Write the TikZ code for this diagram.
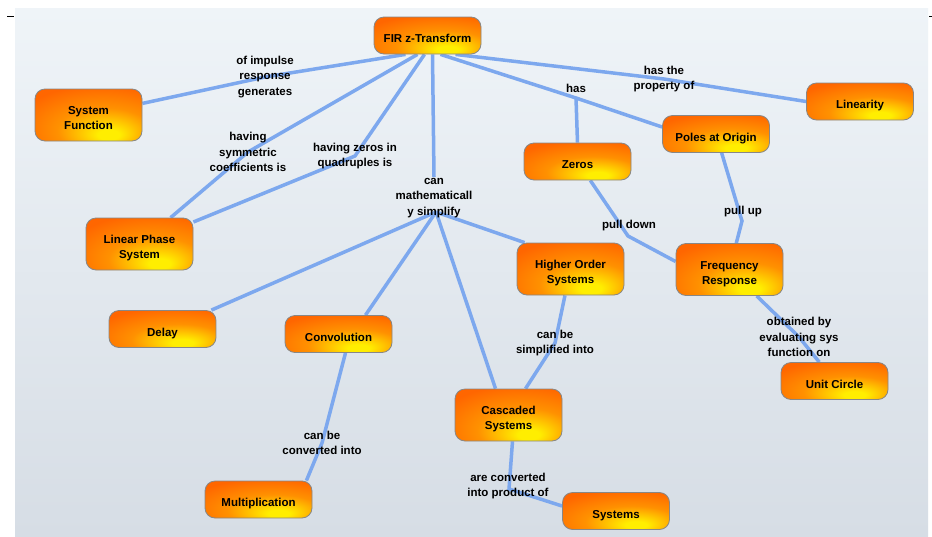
\documentclass[tikz,border=0pt]{standalone}
\usepackage{fontspec}
\setmainfont{Liberation Sans}
\definecolor{corange}{RGB}{255,102,0}
\definecolor{cmid}{RGB}{255,145,0}
\definecolor{cyellow}{RGB}{255,238,0}
\definecolor{cborder}{RGB}{135,135,135}
\definecolor{clink}{RGB}{125,168,238}
\definecolor{ptop}{RGB}{239,244,248}
\definecolor{pbot}{RGB}{214,221,229}
\pgfdeclareradialshading{nodeshade}{\pgfpoint{10bp}{-20bp}}{color(0bp)=(cyellow); color(5bp)=(cyellow); color(22bp)=(cmid); color(40bp)=(corange); color(90bp)=(corange)}
\pgfdeclarelayer{back}
\pgfdeclarelayer{lines}
\pgfsetlayers{back,lines,main}
\newcommand{\nt}[1]{\raisebox{-4pt}[\height][\depth]{\begin{tabular}{@{}c@{}}#1\end{tabular}}}
\begin{document}
\begin{tikzpicture}[x=1pt,y=-1pt,
  concept/.style={rectangle, rounded corners=10pt, draw=cborder, line width=0.8pt,
    shade, shading=nodeshade, minimum width=107pt, minimum height=37pt, inner sep=0pt,
    font=\bfseries\fontsize{11.5}{15}\selectfont},
  tall/.style={minimum height=52pt},
  lbl/.style={font=\bfseries\fontsize{11.5}{15.5}\selectfont, align=center, inner sep=1pt},
  link/.style={draw=clink, line width=3.5pt}]
\useasboundingbox (0,0) rectangle (932,536);
\begin{pgfonlayer}{back}
  \fill[white] (0,0) rectangle (932,536);
  \fill[top color=ptop, bottom color=pbot] (15,8) rectangle (928,536);
  \draw[line width=0.8pt] (7,16) -- (14,16);
  \draw[line width=0.8pt] (929,16) -- (932,16);
\end{pgfonlayer}

% concepts
\node[concept] (fir) at (427.5,35.5) {\nt{FIR z-Transform}};
\node[concept,tall] (sf) at (88.5,115) {\nt{System\\Function}};
\node[concept,tall] (lps) at (139.5,244) {\nt{Linear Phase\\System}};
\node[concept] (delay) at (162.5,329) {\nt{Delay}};
\node[concept] (conv) at (338.5,334) {\nt{Convolution}};
\node[concept] (mult) at (258.5,499.5) {\nt{Multiplication}};
\node[concept,tall] (casc) at (508.5,415) {\nt{Cascaded\\Systems}};
\node[concept] (sys) at (616,511) {\nt{Systems}};
\node[concept,tall] (hos) at (570.5,269) {\nt{Higher Order\\Systems}};
\node[concept] (zeros) at (577.5,161.5) {\nt{Zeros}};
\node[concept] (poles) at (716,134) {\nt{Poles at Origin}};
\node[concept] (lin) at (860,101.5) {\nt{Linearity}};
\node[concept,tall] (fr) at (729.5,269.5) {\nt{Frequency\\Response}};
\node[concept] (uc) at (834.5,381) {\nt{Unit Circle}};

% linking phrases
\node[lbl] (impulse) at (265,77) {of impulse\\response\\generates};
\node[lbl] (sym) at (248,152) {having\\symmetric\\coefficients is};
\node[lbl] (quad) at (355,156) {having zeros in\\quadruples is};
\node[lbl] (simp) at (434,198) {can\\mathematicall\\y simplify};
\node[lbl] (has) at (576,88) {has};
\node[lbl] (prop) at (664,79) {has the\\property of};
\node[lbl] (pd) at (629,226) {pull down};
\node[lbl] (pu) at (743,212) {pull up};
\node[lbl] (simpl) at (555,343) {can be\\simplified into};
\node[lbl] (convi) at (322,443) {can be\\converted into};
\node[lbl] (areconv) at (508,486) {are converted\\into product of};
\node[lbl] (obt) at (799,337) {obtained by\\evaluating sys\\function on};

\coordinate (simpj) at (436,212);
\coordinate (hasj) at (576,98);
\coordinate (pdj) at (628,236);
\coordinate (puj) at (742,221);
\coordinate (acj) at (509,489);

\begin{pgfonlayer}{lines}
  \draw[link] ([xshift=-22pt]fir.south) -- (impulse.center) -- (sf);
  \draw[link] ([xshift=-10pt]fir.south) -- (sym.center) -- (lps);
  \draw[link] ([xshift=-3pt]fir.south) -- (quad.center) -- (lps);
  \draw[link] ([xshift=5pt]fir.south) -- (simp.north);
  \draw[link] (simpj) -- ([xshift=-5pt]delay.north east);
  \draw[link] (simpj) -- ([xshift=27pt]conv.north);
  \draw[link] (simpj) -- ([xshift=-13pt]casc.north);
  \draw[link] (simpj) -- ([xshift=8pt]hos.north west);
  \draw[link] ([xshift=13pt]fir.south) -- (hasj) -- ([yshift=7pt]poles.west);
  \draw[link] (hasj) -- (zeros.north);
  \draw[link] ([xshift=28pt]fir.south) -- (prop.center) -- (lin.west);
  \draw[link] (zeros) -- (pdj) -- ([yshift=8pt]fr.west);
  \draw[link] (poles) -- (puj) -- (fr);
  \draw[link] (hos) -- (simpl.center) -- (casc);
  \draw[link] ([xshift=7pt]conv.south) -- (convi.center) -- ([xshift=-6pt]mult.north east);
  \draw[link] ([xshift=4pt]casc.south) -- (acj) -- ([yshift=5pt]sys.west);
  \draw[link] (fr) -- (obt.center) -- (uc);
\end{pgfonlayer}
\end{tikzpicture}
\end{document}
